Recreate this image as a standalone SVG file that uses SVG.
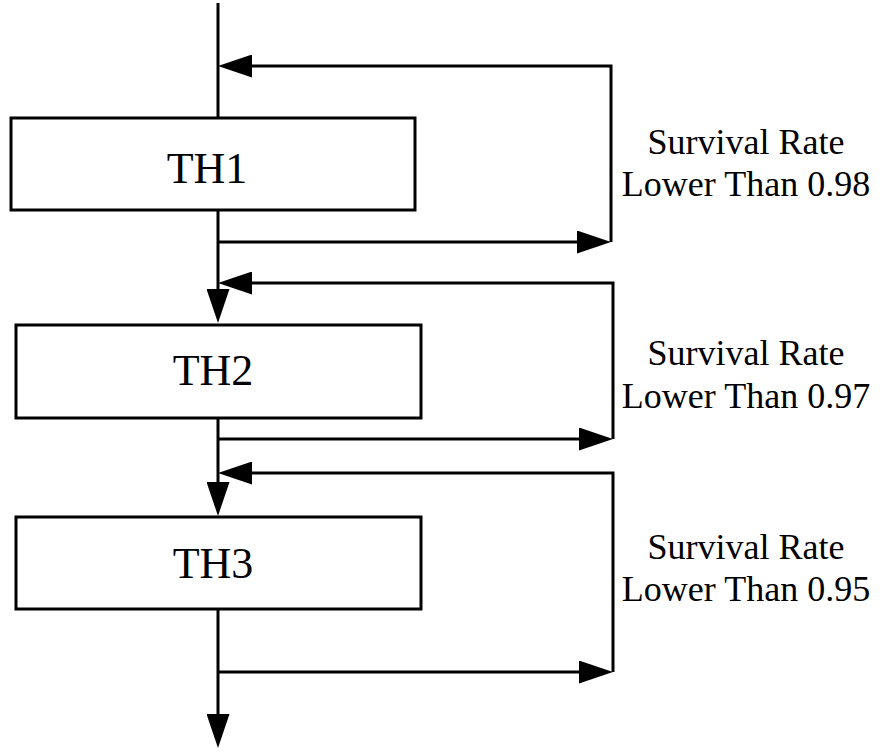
<svg xmlns="http://www.w3.org/2000/svg" width="880" height="753" viewBox="0 0 880 753">
  <defs>
    <style>
      .box { fill: #ffffff; stroke: #000000; stroke-width: 3; }
      .wire { fill: none; stroke: #000000; stroke-width: 3; }
      .arrow { marker-end: url(#head); }
      .name { font-family: "Liberation Serif", "Times New Roman", serif; font-size: 44px; fill: #000000; text-anchor: middle; }
      .cond { font-family: "Liberation Serif", "Times New Roman", serif; font-size: 36px; fill: #000000; text-anchor: middle; }
    </style>
    <marker id="head" markerUnits="userSpaceOnUse" markerWidth="34" markerHeight="23" refX="24" refY="11.5" orient="auto">
      <path d="M0,0 L34,11.5 L0,23 Z" fill="#000000"/>
    </marker>
  </defs>

  <rect width="880" height="753" fill="#ffffff"/>

  <!-- connectors: main flow and the three repeat loops -->
  <g id="connectors">
    <path class="wire" d="M218,3 V118"/>
    <path class="wire arrow" d="M218,210 V313"/>
    <path class="wire arrow" d="M218,242 H601"/>
    <path class="wire arrow" d="M611,242 V66 H228"/>

    <path class="wire arrow" d="M218,418 V506"/>
    <path class="wire arrow" d="M218,439 H603"/>
    <path class="wire arrow" d="M613,439 V283 H228"/>

    <path class="wire arrow" d="M218,609 V738"/>
    <path class="wire arrow" d="M218,672 H603"/>
    <path class="wire arrow" d="M613,672 V473 H228"/>
  </g>

  <g id="th1">
    <rect class="box" x="11" y="118" width="404" height="92"/>
    <text class="name" x="207" y="183">TH1</text>
  </g>
  <g id="th2">
    <rect class="box" x="16" y="325" width="405" height="93"/>
    <text class="name" x="213" y="385">TH2</text>
  </g>
  <g id="th3">
    <rect class="box" x="16" y="517" width="405" height="92"/>
    <text class="name" x="213" y="578">TH3</text>
  </g>

  <!-- loop conditions -->
  <g id="cond1">
    <text class="cond" x="746" y="154">Survival Rate</text>
    <text class="cond" x="746" y="196">Lower Than 0.98</text>
  </g>
  <g id="cond2">
    <text class="cond" x="746" y="365">Survival Rate</text>
    <text class="cond" x="746" y="408">Lower Than 0.97</text>
  </g>
  <g id="cond3">
    <text class="cond" x="746" y="559">Survival Rate</text>
    <text class="cond" x="746" y="601">Lower Than 0.95</text>
  </g>
</svg>
